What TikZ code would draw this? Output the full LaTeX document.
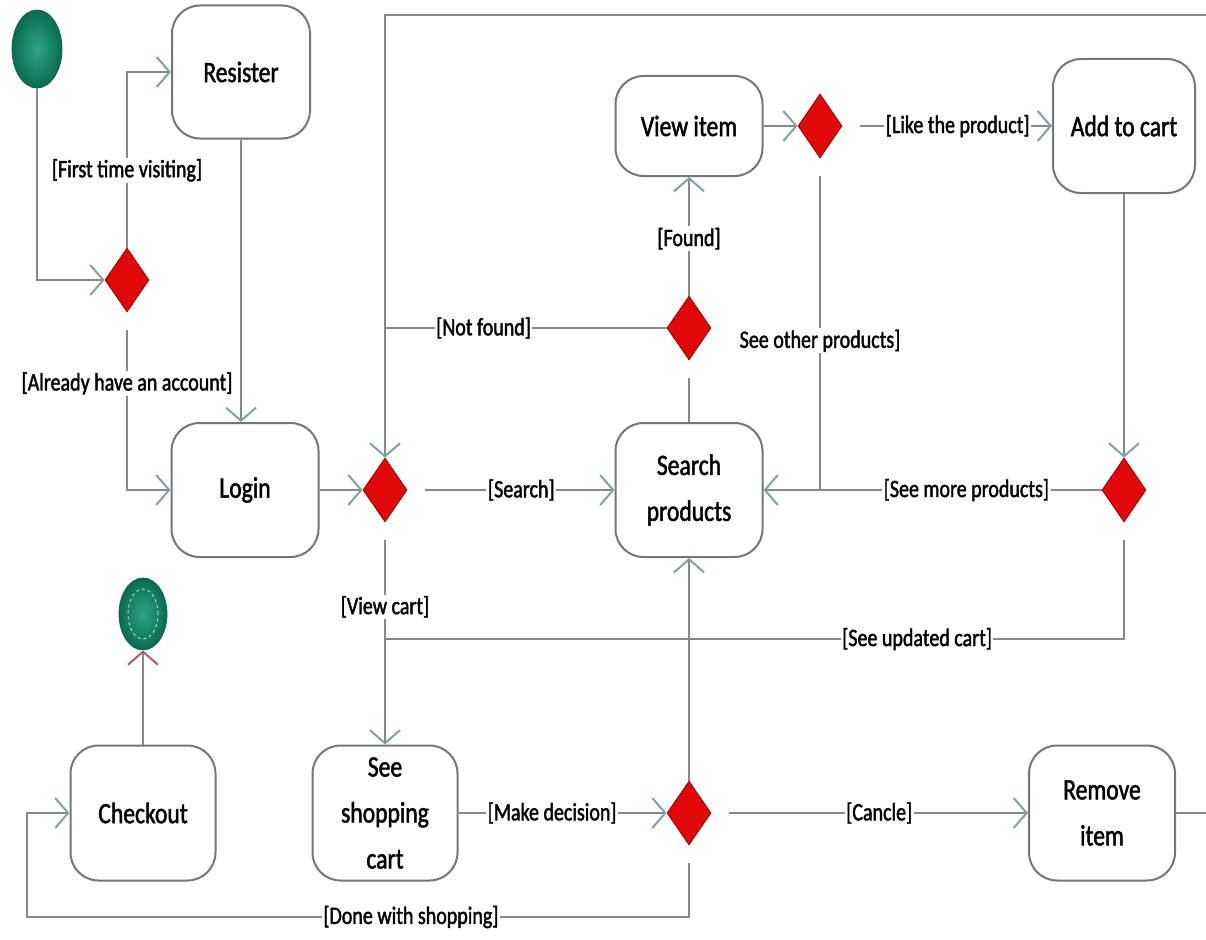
\documentclass[tikz,border=0pt]{standalone}
\usepackage{fontspec}
\setmainfont{Carlito}[FakeStretch=0.8,FakeBold=1.6]
\usetikzlibrary{shapes.geometric,arrows.meta,calc}
\definecolor{ln}{HTML}{888888}
\definecolor{ah}{HTML}{7FA3A3}
\definecolor{bx}{HTML}{767676}
\definecolor{dred}{HTML}{E00808}
\definecolor{dbord}{HTML}{9A0000}
\definecolor{gin}{HTML}{2FA585}
\definecolor{gout}{HTML}{0A6A50}
\begin{document}
\begin{tikzpicture}[x=1pt,y=-1pt,
  act/.style={rectangle,rounded corners=28pt,draw=bx,line width=2pt,fill=white,
     minimum width=147pt,minimum height=134pt,align=center,
     font=\fontsize{29.5}{46}\selectfont},
  dec/.style={diamond,fill=dred,draw=dbord,line width=0.8pt,aspect=0.67,
     minimum width=44pt,minimum height=64pt,inner sep=0pt},
  flow/.style={draw=ln,line width=2.5pt},
  arr/.style={flow,-{Straight Barb[length=13pt,width=30pt,line width=2pt,color=ah]}},
  lbl/.style={fill=white,inner sep=1.5pt,text=black,font=\fontsize{25}{30}\selectfont},
  gap/.style={shorten <=18pt}
]
\useasboundingbox (0,0) rectangle (1206,939);
\fill[white] (0,0) rectangle (1206,939);

% start / end
\node[ellipse,minimum width=50pt,minimum height=78pt,inner sep=0pt,draw=gout,line width=0.8pt,
      inner color=gin,outer color=gout] (start) at (37,49) {};
\node[ellipse,minimum width=48pt,minimum height=72pt,inner sep=0pt,draw=gout,line width=0.8pt,
      inner color=gin,outer color=gout] (end) at (143,614) {};
\draw[draw=green!25!white,dashed,line width=0.8pt] (end.center) ellipse (15pt and 25pt);

% activities
\node[act,minimum width=138pt,minimum height=133pt] (res) at (241,72) {Resister};
\node[act] (login) at (245,490) {Login};
\node[act,minimum height=100pt] (view) at (689,126) {View item};
\node[act,minimum width=142pt] (add) at (1124,126) {Add to cart};
\node[act] (search) at (689,490) {Search\\products};
\node[act,minimum width=145pt,minimum height=135pt] (chk) at (143,813) {Checkout};
\node[act,minimum width=145pt,minimum height=135pt,inner sep=0pt] (cart) at (385,813) {See\\shopping\\cart};
\node[act,minimum width=146pt,minimum height=135pt] (rem) at (1102,813) {Remove\\item};

% decisions
\node[dec] (d1) at (127,280) {};
\node[dec] (d2) at (385,490) {};
\node[dec] (d3) at (820,126) {};
\node[dec] (d4) at (689,328) {};
\node[dec] (d5) at (1124,490) {};
\node[dec] (d6) at (689,813) {};

% helper coordinates
\coordinate (rt) at (1206,15);
\coordinate (rb) at (1206,813);
\coordinate (jn1) at (385,328);
\coordinate (jn2) at (385,639);
\coordinate (jn3) at (820,490);
\coordinate (cl) at (27,917);

% connectors
\draw[arr] (start.south) |- (d1.west);
\draw[arr] (d1.north) |- node[lbl,pos=0.22]{[First time visiting]} (res.west);
\draw[arr,gap] (d1.south) |- node[lbl,pos=0.2]{[Already have an account]} (login.west);
\draw[arr] (res.south) -- (res.south |- login.north);
\draw[arr] (login.east) -- (d2.west);
\draw[arr,gap] (d2.east) -- node[lbl,pos=0.55]{[Search]} (search.west);
\draw[flow,shorten >=18pt] (search.north) -- (d4.south);
\draw[arr] (d4.north) -- node[lbl,pos=0.48]{[Found]} (view.south);
\draw[flow] (d4.west) -- node[lbl,pos=0.65]{[Not found]} (jn1);
\draw[arr] (rt) -| (d2.north);
\draw[arr] (view.east) -- (d3.west);
\draw[arr,gap] (d3.east) -- node[lbl,pos=0.55]{[Like the product]} (add.west);
\draw[flow,gap] (d3.south) -- node[lbl,pos=0.55]{See other products]} (jn3);
\draw[arr] (add.south) -- (d5.north);
\draw[arr] (d5.west) -- node[lbl,pos=0.4]{[See more products]} (search.east);
\draw[flow,gap] (d5.south) |- node[lbl,pos=0.64]{[See updated cart]} (jn2);
\draw[arr,gap] (d2.south) -- node[lbl,pos=0.38]{[View cart]} (cart.north);
\draw[arr] (cart.east) -- node[lbl,pos=0.45]{[Make decision]} (d6.west);
\draw[arr] (d6.north) -- (search.south);
\draw[arr,gap] (d6.east) -- node[lbl,pos=0.53]{[Cancle]} (rem.west);
\draw[flow] (rem.east) -- (rb);
\draw[arr,gap] (d6.south) |- node[lbl,pos=0.71]{[Done with shopping]} (cl) |- (chk.west);
\draw[flow,-{Straight Barb[length=13pt,width=30pt,line width=2pt,color=red!30!ln]}] (chk.north) -- (end.south);
\end{tikzpicture}
\end{document}
